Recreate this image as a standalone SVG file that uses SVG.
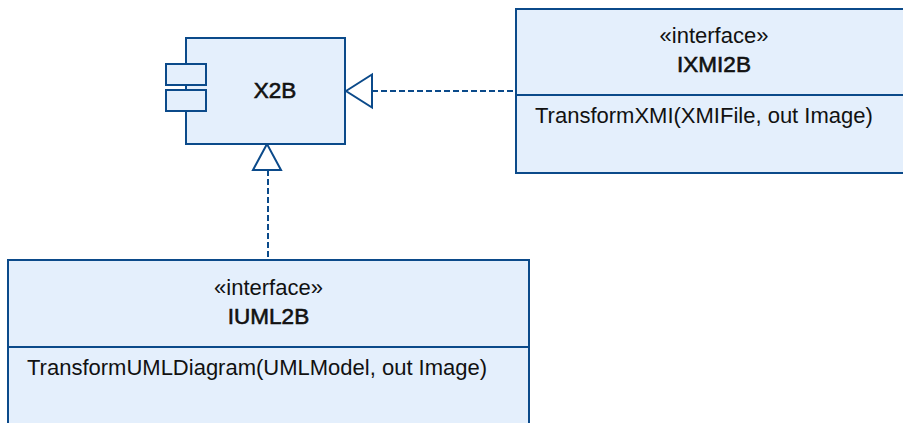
<svg xmlns="http://www.w3.org/2000/svg" width="903" height="423" viewBox="0 0 903 423">
  <style>
    .box { fill: #e4effc; stroke: #0b4a8a; stroke-width: 2; }
    .line { fill: none; stroke: #0b4a8a; stroke-width: 2; }
    .dash { fill: none; stroke: #0b4a8a; stroke-width: 2; stroke-dasharray: 6 3; }
    .tri { fill: #ffffff; stroke: #0b4a8a; stroke-width: 2; stroke-linejoin: miter; }
    .t { font-family: "Liberation Sans", Arial, sans-serif; font-size: 22px; fill: #111111; }
    .c { text-anchor: middle; }
    .name { font-size: 22.5px; stroke: #111111; stroke-width: 0.6; }
  </style>
  <rect width="903" height="423" fill="#ffffff"/>

  <!-- realization connectors -->
  <g id="connectors">
    <line class="dash" x1="372" y1="91" x2="515" y2="91"/>
    <polygon class="tri" points="346,91 372,74.5 372,107.5"/>
    <line class="dash" x1="268" y1="170" x2="268" y2="259"/>
    <polygon class="tri" points="267,144 253,170 281,170"/>
  </g>

  <!-- component X2B -->
  <g id="x2b">
    <rect class="box" x="186" y="38" width="159" height="106"/>
    <rect class="box" x="166" y="64" width="40" height="21"/>
    <rect class="box" x="166" y="90" width="40" height="21"/>
    <text class="t c name" x="275" y="98">X2B</text>
  </g>

  <!-- interface IXMI2B -->
  <g id="ixmi2b">
    <rect class="box" x="516" y="9" width="396" height="164"/>
    <line class="line" x1="516" y1="95" x2="912" y2="95"/>
    <text class="t c" x="714" y="43">«interface»</text>
    <text class="t c name" x="714" y="72">IXMI2B</text>
    <text class="t" x="535" y="123">TransformXMI(XMIFile, out Image)</text>
  </g>

  <!-- interface IUML2B -->
  <g id="iuml2b">
    <rect class="box" x="8" y="260" width="521" height="180"/>
    <line class="line" x1="8" y1="347" x2="529" y2="347"/>
    <text class="t c" x="268.5" y="295">«interface»</text>
    <text class="t c name" x="268.5" y="324">IUML2B</text>
    <text class="t" x="27" y="375">TransformUMLDiagram(UMLModel, out Image)</text>
  </g>
</svg>
